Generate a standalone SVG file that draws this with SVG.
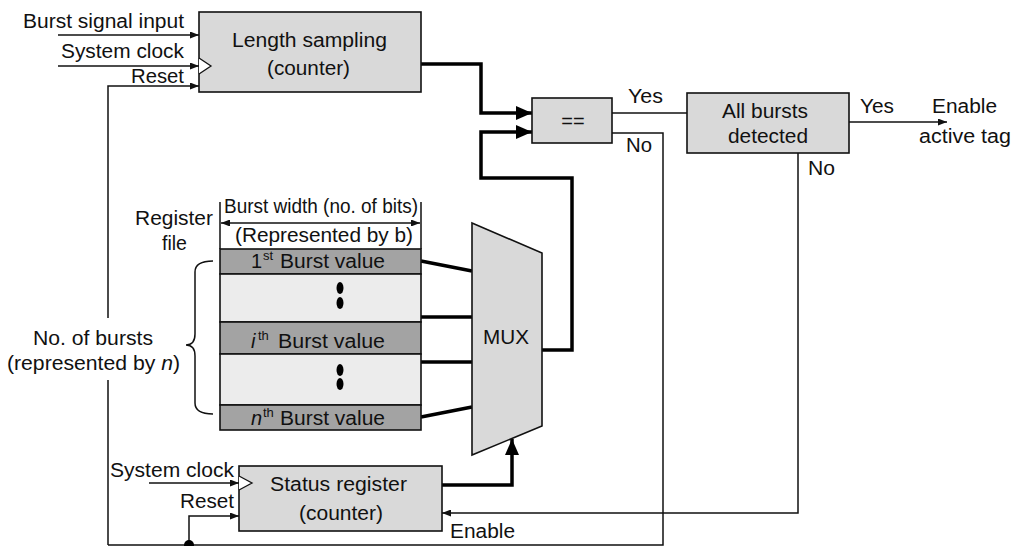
<svg xmlns="http://www.w3.org/2000/svg" width="1016" height="546" viewBox="0 0 1016 546">
<style>
text{font-family:"Liberation Sans",Arial,Helvetica,sans-serif;font-size:20px;fill:#111}
.sup{font-size:13px}
.it{font-style:italic}
.box{fill:#d9d9d9;stroke:#111;stroke-width:1.6}
.dark{fill:#a3a3a3;stroke:#111;stroke-width:1.6}
.light{fill:#ececec;stroke:#111;stroke-width:1.6}
.thin{fill:none;stroke:#111;stroke-width:1.5}
.thick{fill:none;stroke:#000;stroke-width:3.5}
.clk{fill:#fff;stroke:#111;stroke-width:1.3}
</style>
<defs>
<marker id="big" markerUnits="userSpaceOnUse" markerWidth="16" markerHeight="14" refX="16" refY="7" orient="auto"><path d="M0,0 L16,7 L0,14 z" fill="#000"/></marker>
<marker id="sm" markerUnits="userSpaceOnUse" markerWidth="9" markerHeight="7" refX="9" refY="3.5" orient="auto-start-reverse"><path d="M0,0 L9,3.5 L0,7 z" fill="#111"/></marker>
</defs>
<rect width="1016" height="546" fill="#fff"/>

<g id="connectors">
<path class="thin" d="M58,35 H199" marker-end="url(#sm)"/>
<path class="thin" d="M58,66 H199" marker-end="url(#sm)"/>
<path class="thin" d="M108,545 V86 H199" marker-end="url(#sm)"/>
<path class="thick" d="M421,64 H481 V113 H532" marker-end="url(#big)"/>
<path class="thick" d="M542,350 H572 V178 H481 V132 H532" marker-end="url(#big)"/>
<path class="thin" d="M612,113 H687"/>
<path class="thin" d="M612,133 H663 V545 H108"/>
<path class="thin" d="M849,122 H947" marker-end="url(#sm)"/>
<path class="thin" d="M798,153 V513 H442" marker-end="url(#sm)"/>
<path class="thick" d="M421,261 L472,271"/>
<path class="thick" d="M421,317 H472"/>
<path class="thick" d="M421,362 H472"/>
<path class="thick" d="M421,417 L472,407"/>
<path class="thick" d="M442,485 H512 V439" marker-end="url(#big)"/>
<path class="thin" d="M149,483 H239" marker-end="url(#sm)"/>
<path class="thin" d="M189,545 V516 H239" marker-end="url(#sm)"/>
<circle cx="189" cy="545" r="5" fill="#000"/>
</g>

<g id="length-sampling">
<rect class="box" x="199" y="12" width="222" height="80"/>
<path class="clk" d="M199,58 L211,66 L199,74"/>
<text x="232" y="47" textLength="155" lengthAdjust="spacingAndGlyphs">Length sampling</text>
<text x="267" y="75" textLength="83" lengthAdjust="spacingAndGlyphs">(counter)</text>
</g>
<text x="23" y="28" textLength="161" lengthAdjust="spacingAndGlyphs">Burst signal input</text>
<text x="61" y="58" textLength="123" lengthAdjust="spacingAndGlyphs">System clock</text>
<text x="131" y="83" textLength="53" lengthAdjust="spacingAndGlyphs">Reset</text>

<g id="comparator">
<rect class="box" x="532" y="98" width="80" height="45"/>
<text x="573" y="128" text-anchor="middle">==</text>
</g>
<text x="628" y="103" textLength="35" lengthAdjust="spacingAndGlyphs">Yes</text>
<text x="626" y="152" textLength="26" lengthAdjust="spacingAndGlyphs">No</text>

<g id="all-bursts">
<rect class="box" x="687" y="93" width="162" height="60"/>
<text x="722" y="118" textLength="86" lengthAdjust="spacingAndGlyphs">All bursts</text>
<text x="728" y="143" textLength="80" lengthAdjust="spacingAndGlyphs">detected</text>
</g>
<text x="860" y="113" textLength="34" lengthAdjust="spacingAndGlyphs">Yes</text>
<text x="932" y="113" textLength="65" lengthAdjust="spacingAndGlyphs">Enable</text>
<text x="919" y="143" textLength="92" lengthAdjust="spacingAndGlyphs">active tag</text>
<text x="808" y="175" textLength="27" lengthAdjust="spacingAndGlyphs">No</text>

<g id="register-file">
<path class="thin" d="M220,202 V249 M421,202 V249"/>
<path class="thin" d="M221,223 H420" marker-start="url(#sm)" marker-end="url(#sm)"/>
<text x="224" y="213" textLength="194" lengthAdjust="spacingAndGlyphs">Burst width (no. of bits)</text>
<rect x="226" y="226" width="190" height="22" fill="#fff"/>
<text x="235" y="242" textLength="178" lengthAdjust="spacingAndGlyphs">(Represented by b)</text>
<text x="135" y="225" textLength="78" lengthAdjust="spacingAndGlyphs">Register</text>
<text x="162" y="250" textLength="25" lengthAdjust="spacingAndGlyphs">file</text>
<rect class="dark" x="220" y="249" width="201" height="25"/>
<rect class="light" x="220" y="274" width="201" height="48"/>
<rect class="dark" x="220" y="322" width="201" height="32"/>
<rect class="light" x="220" y="354" width="201" height="51"/>
<rect class="dark" x="220" y="405" width="201" height="25"/>
<text x="251" y="268">1</text>
<text class="sup" x="263" y="260">st</text>
<text x="280" y="268" textLength="105" lengthAdjust="spacingAndGlyphs">Burst value</text>
<ellipse cx="340" cy="288" rx="3.5" ry="6" fill="#000"/>
<ellipse cx="340" cy="303" rx="3.5" ry="6" fill="#000"/>
<text class="it" x="251" y="348">i</text>
<text class="sup" x="258" y="340">th</text>
<text x="278" y="348" textLength="107" lengthAdjust="spacingAndGlyphs">Burst value</text>
<ellipse cx="340" cy="370" rx="3.5" ry="6" fill="#000"/>
<ellipse cx="340" cy="384" rx="3.5" ry="6" fill="#000"/>
<text class="it" x="251" y="425">n</text>
<text class="sup" x="263" y="417">th</text>
<text x="280" y="425" textLength="105" lengthAdjust="spacingAndGlyphs">Burst value</text>
<path class="thin" d="M213,261 Q195,261 195,272 V334 Q195,345 186,345 Q195,345 195,356 V403 Q195,414 213,414"/>
</g>

<g id="bursts-label">
<rect x="4" y="318" width="180" height="62" fill="#fff"/>
<text x="33" y="345" textLength="120" lengthAdjust="spacingAndGlyphs">No. of bursts</text>
<text x="7" y="370" textLength="173" lengthAdjust="spacingAndGlyphs">(represented by <tspan class="it">n</tspan>)</text>
</g>

<g id="mux">
<path class="box" d="M472,223 L542,253 L542,426 L472,455 Z"/>
<text x="483" y="344" textLength="46" lengthAdjust="spacingAndGlyphs">MUX</text>
</g>

<g id="status-register">
<rect class="box" x="239" y="466" width="203" height="65"/>
<path class="clk" d="M239,476 L252,483 L239,490"/>
<text x="270" y="491" textLength="137" lengthAdjust="spacingAndGlyphs">Status register</text>
<text x="299" y="520" textLength="84" lengthAdjust="spacingAndGlyphs">(counter)</text>
</g>
<text x="110" y="477" textLength="124" lengthAdjust="spacingAndGlyphs">System clock</text>
<text x="180" y="508" textLength="54" lengthAdjust="spacingAndGlyphs">Reset</text>
<text x="450" y="538" textLength="65" lengthAdjust="spacingAndGlyphs">Enable</text>
</svg>
